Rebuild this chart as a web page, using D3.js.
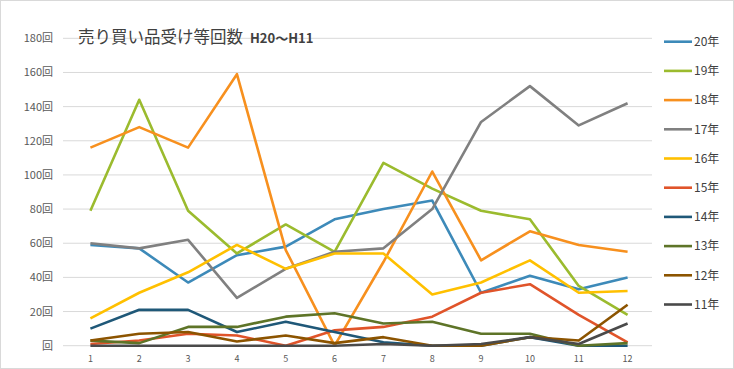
<!DOCTYPE html>
<html><head><meta charset="utf-8">
<script src="https://cdn.jsdelivr.net/npm/d3@7"></script>
<style>body{margin:0;background:#fff}svg{display:block}</style>
</head><body><svg id="c" width="734" height="369"></svg>
<script>
const categories = [1,2,3,4,5,6,7,8,9,10,11,12];
const seriesNames = ["20年","19年","18年","17年","16年","15年","14年","13年","12年","11年"];
const colors = ["#3D8AB9","#9BBB2E","#F7901E","#808080","#FFC000","#E0542A","#1F5878","#5E7428","#8C5400","#4A4A4A"];
const s20 = [59,57,37,53,58,74,80,85,31,41,33,40];
const s19 = [79,144,79,54,71,55,107,92,79,74,35,18];
const s18 = [116,128,116,159,56,0,49,102,50,67,59,55];
const s17 = [60,57,62,28,45,55,57,80,131,152,129,142];
const s16 = [16,31,43,59,45,54,54,30,37,50,31,32];
const s15 = [1,3,7,6,0,9,11,17,31,36,18,2];
const s14 = [10,21,21,8,14,8,2,0,0,5,0,0];
const s13 = [3,1.5,11,11,17,19,13,14,7,7,0,1.5];
const s12 = [3,7,8,2.5,6,1.5,5,0,0,5,3,24];
const s11 = [0,0,0,0,0,0,1,0,1,5,1,13];
const yTicks = [0,20,40,60,80,100,120,140,160,180];
const title1 = "売り買い品受け等回数";
const title2 = "H20～H11";
const allSeries = [s20,s19,s18,s17,s16,s15,s14,s13,s12,s11];

const svg = d3.select("#c");
const font = "'Noto Sans CJK JP','Noto Sans',sans-serif";
svg.append("rect").attr("x",0.5).attr("y",0.5).attr("width",733).attr("height",368)
  .attr("fill","#fff").attr("stroke","#D9D9D9");

const plotL = 66, plotR = 652, plotT = 38.3, plotB = 345.7;
const x = d3.scaleBand().domain(categories).range([plotL, plotR]);
const xc = d => x(d) + x.bandwidth()/2;
const y = d3.scaleLinear().domain([0,180]).range([plotB, plotT]);

// gridlines
svg.append("g").selectAll("line").data(yTicks).join("line")
  .attr("x1",63).attr("x2",plotR).attr("y1",d=>y(d)).attr("y2",d=>y(d))
  .attr("stroke","#D9D9D9").attr("stroke-width",1);

// y axis labels
const yAxis = d3.axisLeft(y).tickValues(yTicks).tickSize(0).tickPadding(0)
  .tickFormat(d => d === 0 ? "回" : d + "回");
const ya = svg.append("g").attr("transform","translate(53,0)").call(yAxis);
ya.select(".domain").remove();
ya.selectAll("text").attr("font-family",font).attr("font-size",11).attr("fill","#595959");

// x axis labels
const xAxis = d3.axisBottom(x).tickSize(0).tickPadding(0);
const xa = svg.append("g").attr("transform","translate(0,356)").call(xAxis);
xa.select(".domain").remove();
xa.selectAll("text").attr("font-family",font).attr("font-size",9).attr("fill","#595959");

// lines
const line = d3.line().x((d,i)=>xc(categories[i])).y(d=>y(d));
allSeries.forEach((s,i)=>{
  svg.append("path").datum(s).attr("d",line).attr("fill","none")
    .attr("stroke",colors[i]).attr("stroke-width",2.6).attr("stroke-linejoin","round");
});

// title
const t = svg.append("text").attr("x",78).attr("y",43).attr("font-family",font).attr("fill","#404040");
t.append("tspan").attr("font-size",16.5).text(title1);
t.append("tspan").attr("font-size",13).attr("font-weight","bold").attr("dx",7).text(title2);

// legend
const leg = svg.append("g");
seriesNames.forEach((n,i)=>{
  const ly = 41.7 + i*29.2;
  leg.append("line").attr("x1",664).attr("x2",692).attr("y1",ly).attr("y2",ly)
    .attr("stroke",colors[i]).attr("stroke-width",2.6);
  leg.append("text").attr("x",694).attr("y",ly).attr("dy","0.36em")
    .attr("font-family",font).attr("font-size",12).attr("fill","#404040").text(n);
});
</script></body></html>
